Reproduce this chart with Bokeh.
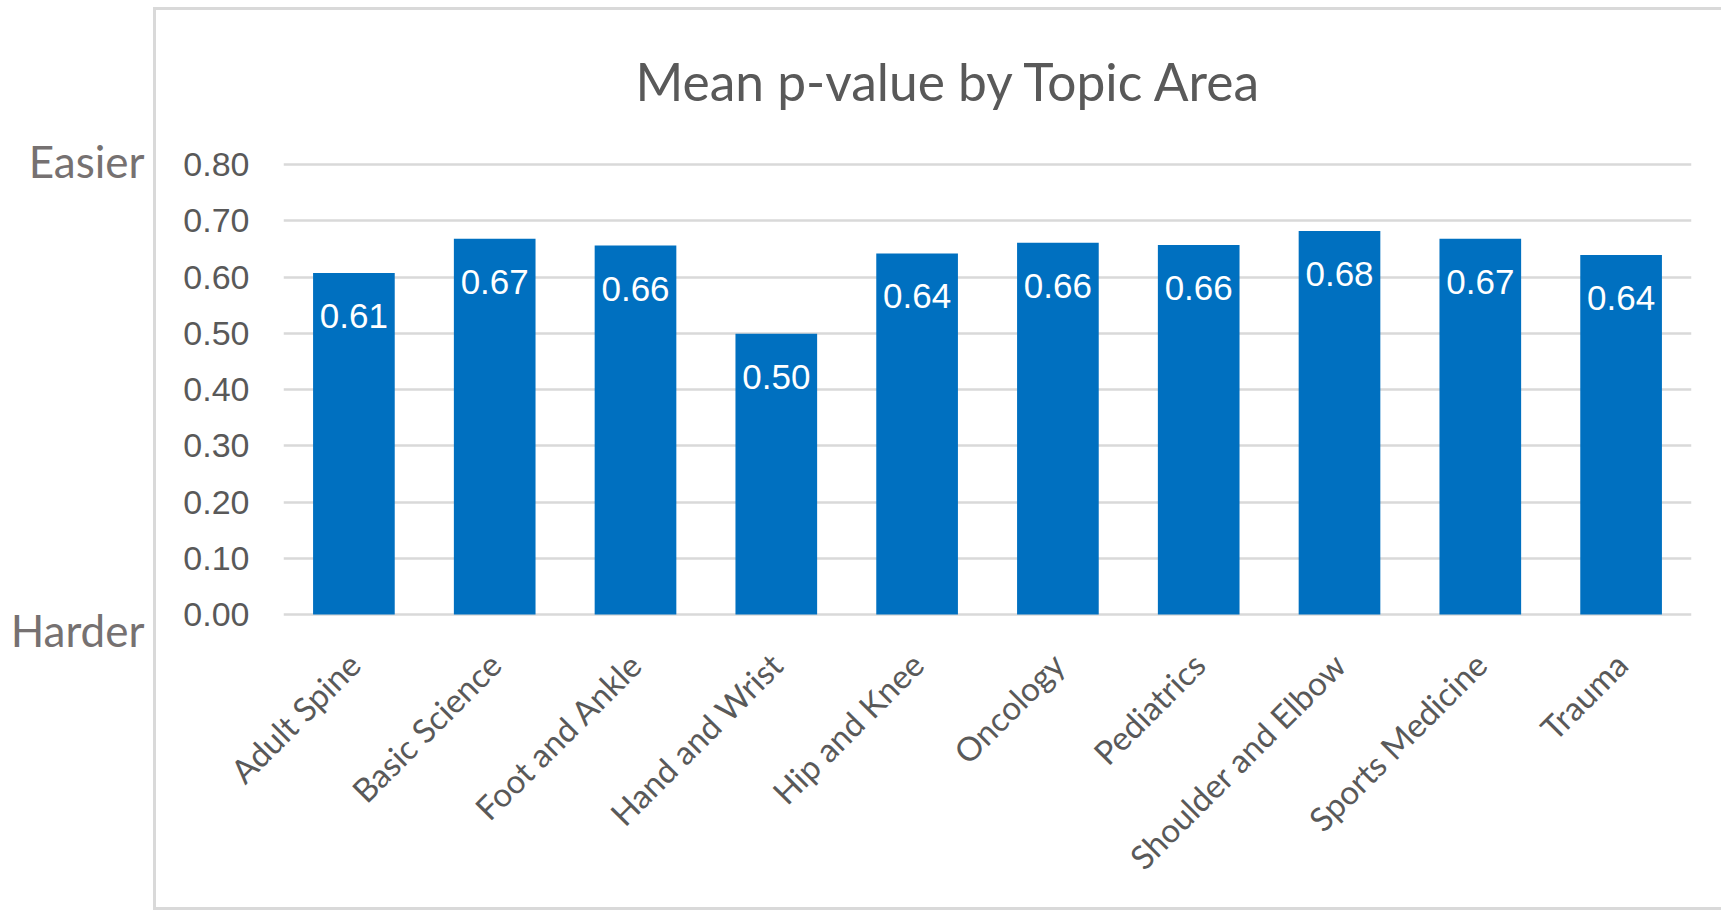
import math
from bokeh.plotting import figure
from bokeh.models import (ColumnDataSource, Range1d, LinearAxis, NumeralTickFormatter,
                          FixedTicker)
from bokeh.core.properties import value
from bokeh.embed import file_html
from bokeh.resources import INLINE

# ---- data ----
topics = ["Adult Spine", "Basic Science", "Foot and Ankle", "Hand and Wrist", "Hip and Knee",
          "Oncology", "Pediatrics", "Shoulder and Elbow", "Sports Medicine", "Trauma"]
mean_p = [0.607, 0.668, 0.656, 0.499, 0.642, 0.661, 0.657, 0.682, 0.668, 0.639]
y_ticks = [0.0, 0.1, 0.2, 0.3, 0.4, 0.5, 0.6, 0.7, 0.8]
title_text = "Mean p-value by Topic Area"
top_note = "Easier"
bottom_note = "Harder"

labels = [f"{v:.2f}" for v in mean_p]
src = ColumnDataSource(dict(topic=topics, val=mean_p, lab=labels))

# ---- layout (pixels) ----
W, H = 1721, 911
FL, FR, FT, FB = 283, 1691, 158, 631        # frame edges
Y0_PX, Y08_PX = 614, 164                     # pixel rows of 0.00 and 0.80
ppu = (Y0_PX - Y08_PX) / 0.8
y_start = -(FB - Y0_PX) / ppu
y_end = 0.8 + (Y08_PX - FT) / ppu
note_pos = [0.807, -0.0267]                  # where the side notes sit

BORDER = "#d9d9d9"
bg = (f"linear-gradient({BORDER},{BORDER}) 153px 7px / 3px 903px no-repeat, "
      f"linear-gradient({BORDER},{BORDER}) 153px 7px / 1568px 3px no-repeat, "
      f"linear-gradient({BORDER},{BORDER}) 153px 907px / 1568px 3px no-repeat, white")

p = figure(x_range=topics, y_range=Range1d(y_start, y_end), width=W, height=H,
           output_backend="svg", toolbar_location=None,
           min_border_left=FL, min_border_right=W - FR,
           min_border_top=FT, min_border_bottom=H - FB,
           styles={"background": bg})
p.outline_line_color = None
p.background_fill_color = "white"
p.border_fill_color = None

p.vbar(x="topic", top="val", bottom=0, width=0.58, source=src,
       fill_color="#0070C0", line_color=None)
p.text(x="topic", y="val", text="lab", source=src, y_offset=43,
       text_align="center", text_baseline="alphabetic", text_color="white",
       text_font=value("Liberation Sans"), text_font_size="35px")

# title
p.title.text = title_text
p.title.align = "left"
p.title.offset = 352
p.title.standoff = 93
p.title.text_font = "Lato"
p.title.text_font_size = "51.5px"
p.title.text_font_style = "normal"
p.title.text_color = "#595959"

p.xgrid.grid_line_color = None
p.ygrid.grid_line_color = "#d9d9d9"
p.ygrid.grid_line_width = 2.5
p.ygrid.ticker = FixedTicker(ticks=y_ticks)

yax = p.yaxis[0]
yax.ticker = FixedTicker(ticks=y_ticks)
yax.formatter = NumeralTickFormatter(format="0.00")
yax.axis_line_color = None
yax.major_tick_line_color = None
yax.minor_tick_line_color = None
yax.major_tick_out = 0
yax.major_tick_in = 0
yax.major_label_standoff = 34
yax.major_label_text_font = "Liberation Sans"
yax.major_label_text_font_size = "34px"
yax.major_label_text_color = "#595959"

# side notes "Easier" / "Harder" as an outer left axis
note_ax = LinearAxis(ticker=FixedTicker(ticks=note_pos),
                     major_label_overrides={note_pos[0]: top_note, note_pos[1]: bottom_note})
note_ax.axis_line_color = None
note_ax.major_tick_line_color = None
note_ax.minor_tick_line_color = None
note_ax.major_tick_out = 0
note_ax.major_tick_in = 0
note_ax.major_label_standoff = 36
note_ax.major_label_text_font = "Lato"
note_ax.major_label_text_font_size = "44px"
note_ax.major_label_text_color = "#767171"
p.add_layout(note_ax, "left")

xax = p.xaxis[0]
xax.axis_line_color = None
xax.major_tick_line_color = None
xax.major_tick_out = 0
xax.major_tick_in = 0
xax.major_label_orientation = math.pi / 4
xax.major_label_standoff = 27
xax.major_label_text_font = "Lato"
xax.major_label_text_font_size = "33px"
xax.major_label_text_color = "#595959"

open("out.html", "w").write(file_html(p, INLINE))
